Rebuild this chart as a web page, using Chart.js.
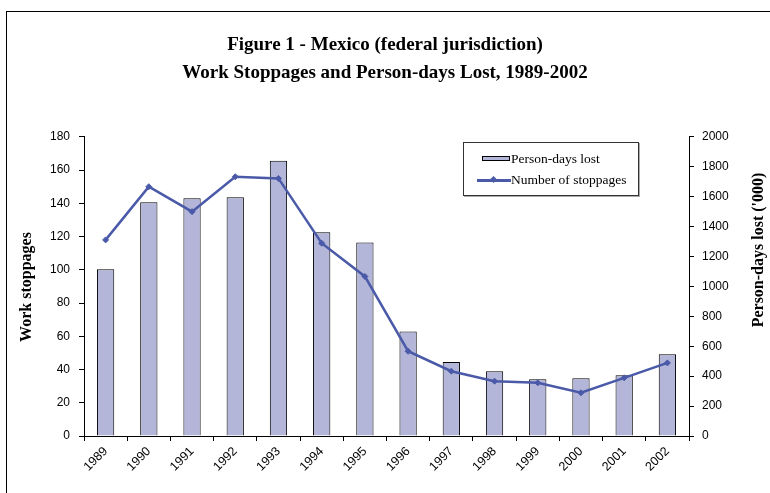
<!DOCTYPE html>
<html>
<head>
<meta charset="utf-8">
<script src="https://cdn.jsdelivr.net/npm/chart.js@4/dist/chart.umd.min.js"></script>
<style>
  body { margin: 0; background: #fff; }
  #wrap { position: relative; width: 770px; height: 493px; overflow: hidden; }
  #frame { position: absolute; left: 6px; top: 11px; width: 900px; height: 700px; border: 1px solid #000; }
  #chartCanvas { position: absolute; left: 0; top: 0; }
  #legendBox {
    position: absolute; left: 463px; top: 142px; width: 174px; height: 52px;
    border: 1px solid #333; box-shadow: 1px 1px 0 #aaa; background: #fff;
    font-family: "Liberation Serif", serif; font-size: 13.5px; color: #000;
  }
  .legRow { position: absolute; left: 0; height: 16px; line-height: 16px; }
  .legRow span.txt { position: absolute; left: 47px; white-space: nowrap; }
</style>
</head>
<body>
<div id="wrap">
  <div id="frame"></div>
  <canvas id="chartCanvas" width="770" height="493"></canvas>
  <div id="legendBox"></div>
</div>
<script>
var years = ['1989', '1990', '1991', '1992', '1993', '1994', '1995', '1996', '1997', '1998', '1999', '2000', '2001', '2002'];
var personDaysLost = [1115, 1563, 1589, 1596, 1840, 1363, 1293, 698, 495, 433, 379, 386, 406, 547];
var stoppages = [118, 150, 135, 156, 155, 116, 96, 51, 39, 33, 32, 26, 35, 44];

var barColor = '#b3b6d8';
var lineColor = '#4a5aa8';
var tickFont = { family: '"Liberation Sans", Arial, sans-serif', size: 12 };

// axis titles drawn by hand so the right one reads bottom-to-top like the original
var axisTitles = {
    id: 'axisTitles',
    afterDraw: function (chart) {
        var ctx = chart.ctx;
        ctx.save();
        ctx.font = 'bold 16px "Liberation Serif", serif';
        ctx.fillStyle = '#000';
        ctx.textAlign = 'center';
        ctx.textBaseline = 'middle';
        ctx.translate(27, 287);
        ctx.rotate(-Math.PI / 2);
        ctx.fillText('Work stoppages', 0, 0);
        ctx.restore();
        ctx.save();
        ctx.font = 'bold 16px "Liberation Serif", serif';
        ctx.fillStyle = '#000';
        ctx.textAlign = 'center';
        ctx.textBaseline = 'middle';
        ctx.translate(759, 250);
        ctx.rotate(-Math.PI / 2);
        ctx.fillText("Person-days lost ('000)", 0, 0);
        ctx.restore();
    }
};

var ctx = document.getElementById('chartCanvas').getContext('2d');
var chart = new Chart(ctx, {
    data: {
        labels: years,
        datasets: [{
            type: 'bar',
            label: 'Person-days lost',
            data: personDaysLost,
            yAxisID: 'y1',
            backgroundColor: barColor,
            borderColor: '#000',
            borderWidth: { top: 1, left: 1, right: 1, bottom: 0 },
            barPercentage: 0.8,
            categoryPercentage: 0.5,
            order: 2
        }, {
            type: 'line',
            label: 'Number of stoppages',
            data: stoppages,
            yAxisID: 'y',
            borderColor: lineColor,
            backgroundColor: lineColor,
            borderWidth: 2.5,
            pointStyle: 'rectRot',
            pointRadius: 3,
            pointBorderWidth: 1,
            tension: 0,
            order: 1
        }]
    },
    options: {
        responsive: false,
        animation: false,
        layout: { padding: { left: 0, right: 0, top: 0, bottom: 0 } },
        plugins: {
            legend: { display: false },
            tooltip: { enabled: false },
            title: {
                display: true,
                text: ['Figure 1 - Mexico (federal jurisdiction)', 'Work Stoppages and Person-days Lost, 1989-2002'],
                color: '#000',
                font: { family: '"Liberation Serif", serif', size: 19, weight: 'bold', lineHeight: 1.47 },
                padding: { top: 31, bottom: 50 }
            }
        },
        scales: {
            x: {
                offset: true,
                grid: { display: true, drawOnChartArea: false, drawTicks: true, tickLength: 5, color: '#000', offset: true },
                border: { display: true, color: '#000', width: 1 },
                ticks: { font: { family: tickFont.family, size: 12.5 }, color: '#000', maxRotation: 45, minRotation: 45, padding: 3 },
                afterFit: function (s) { s.height = 57; }
            },
            y: {
                position: 'left',
                min: 0, max: 180,
                grid: { display: true, drawOnChartArea: false, drawTicks: true, tickLength: 5, color: '#000' },
                border: { display: true, color: '#000', width: 1 },
                ticks: { stepSize: 20, font: tickFont, color: '#000', padding: 9 },
                afterFit: function (s) { s.width = 84; }
            },
            y1: {
                position: 'right',
                min: 0, max: 2000,
                grid: { display: true, drawOnChartArea: false, drawTicks: true, tickLength: 5, color: '#000' },
                border: { display: true, color: '#000', width: 1 },
                ticks: {
                    stepSize: 200, font: tickFont, color: '#000', padding: 8,
                    callback: function (v) { return String(v); }
                },
                afterFit: function (s) { s.width = 81; }
            }
        }
    },
    plugins: [axisTitles]
});

// legend box built from the datasets
var box = document.getElementById('legendBox');
chart.data.datasets.forEach(function (ds, i) {
    var row = document.createElement('div');
    row.className = 'legRow';
    row.style.top = (i === 0 ? 8 : 29) + 'px';
    row.style.width = '170px';
    var sw = document.createElement('span');
    if (ds.type === 'bar') {
        sw.style.cssText = 'position:absolute;left:18px;top:5px;width:28px;height:5px;background:' + ds.backgroundColor + ';border:1px solid #000;box-sizing:border-box;';
    } else {
        sw.style.cssText = 'position:absolute;left:13px;top:7px;width:34px;height:2.5px;background:' + ds.borderColor + ';';
        var dot = document.createElement('span');
        dot.style.cssText = 'position:absolute;left:14px;top:-2px;width:5px;height:5px;background:' + ds.borderColor + ';transform:rotate(45deg);';
        sw.appendChild(dot);
    }
    var t = document.createElement('span');
    t.className = 'txt';
    t.textContent = ds.label;
    row.appendChild(sw);
    row.appendChild(t);
    box.appendChild(row);
});
</script>
</body>
</html>
